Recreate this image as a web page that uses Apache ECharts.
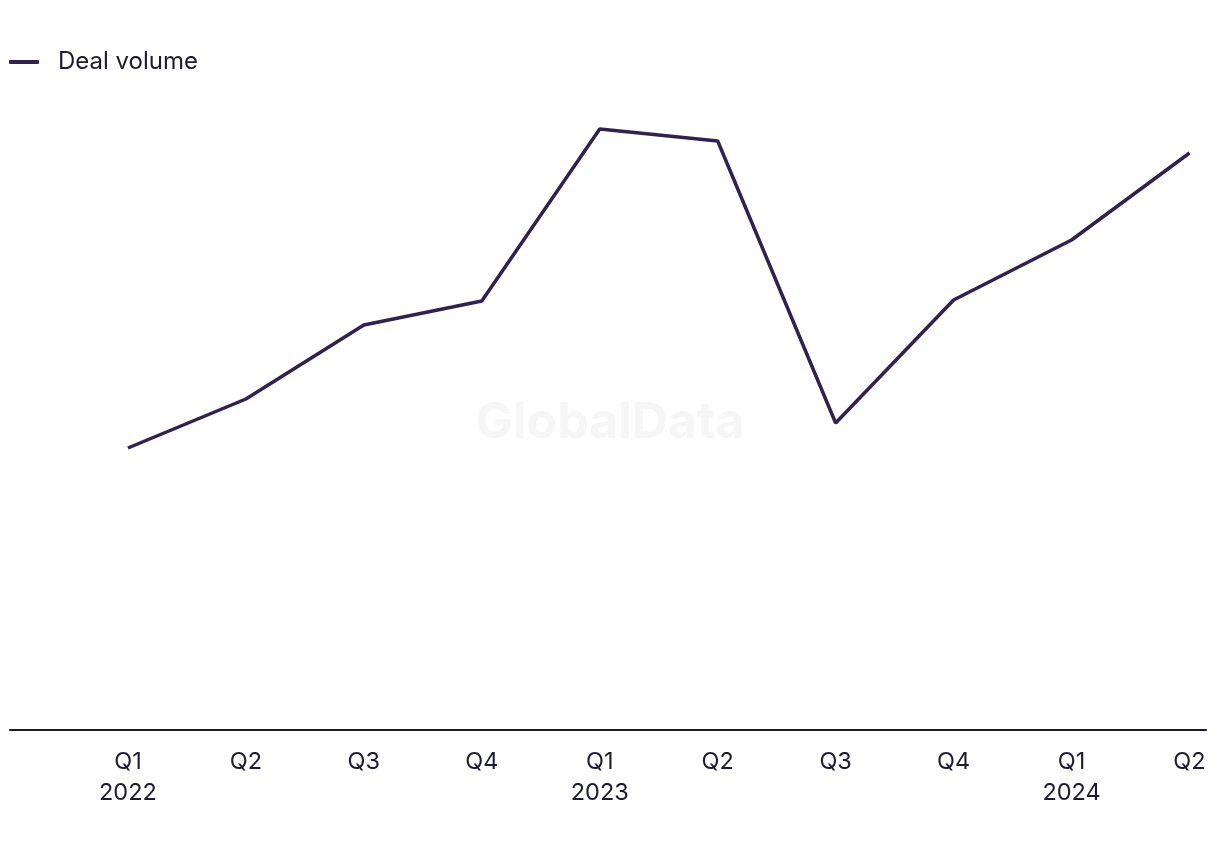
<!DOCTYPE html>
<html>
<head>
<meta charset="utf-8">
<style>
  html, body { margin: 0; padding: 0; background: #fff; }
  #chart { width: 1220px; height: 850px; }
</style>
<script src="https://cdn.jsdelivr.net/npm/echarts@6/dist/echarts.min.js"></script>
</head>
<body>
<div id="chart"></div>
<script>
// quarters and the year shown under each Q1
const quarters = ['Q1', 'Q2', 'Q3', 'Q4', 'Q1', 'Q2', 'Q3', 'Q4', 'Q1', 'Q2']
const years = ['2022', '', '', '', '2023', '', '', '', '2024', '']
// deal volume (no y labels shown, so the scale is relative)
const dealVolume = [282, 331, 405, 429, 601, 589, 307, 430, 490, 577]

const chart = echarts.init(document.getElementById('chart'))
const font = 'Inter, "Noto Sans", sans-serif'

chart.setOption({
  animation: false,
  legend: {
    left: 4,
    top: 45,
    itemWidth: 30,
    itemHeight: 4,
    itemGap: 20,
    icon: 'roundRect',
    textStyle: { fontFamily: font, fontSize: 24, color: '#1c1c2e', padding: [0, 0, 0, 14] },
    data: ['Deal volume']
  },
  graphic: [{
    type: 'text',
    left: 'center',
    top: 398,
    silent: true,
    style: { text: 'GlobalData', font: 'bold 50px ' + font, fill: '#f6f6f6' }
  }],
  grid: { left: 10, right: 14, top: 30, bottom: 120, containLabel: false },
  xAxis: {
    type: 'value',
    min: -1,
    max: 9.14,
    interval: 1,
    splitLine: { show: false },
    axisTick: { show: false },
    axisLine: { show: true, lineStyle: { color: '#1a1a2e', width: 2 } },
    axisLabel: {
      margin: 16,
      fontFamily: font,
      fontSize: 23.5,
      lineHeight: 31,
      color: '#1c1c2e',
      showMinLabel: false,
      formatter: v => {
        const i = Math.round(v)
        if (i < 0 || i >= quarters.length) return ''
        return years[i] ? quarters[i] + '\n' + years[i] : quarters[i]
      }
    }
  },
  yAxis: {
    type: 'value',
    min: 0,
    max: 700,
    show: false
  },
  series: [{
    name: 'Deal volume',
    type: 'line',
    data: dealVolume.map((v, i) => [i, v]),
    symbol: 'none',
    color: '#30214f',
    lineStyle: { color: '#30214f', width: 3.5 }
  }]
})
</script>
</body>
</html>
